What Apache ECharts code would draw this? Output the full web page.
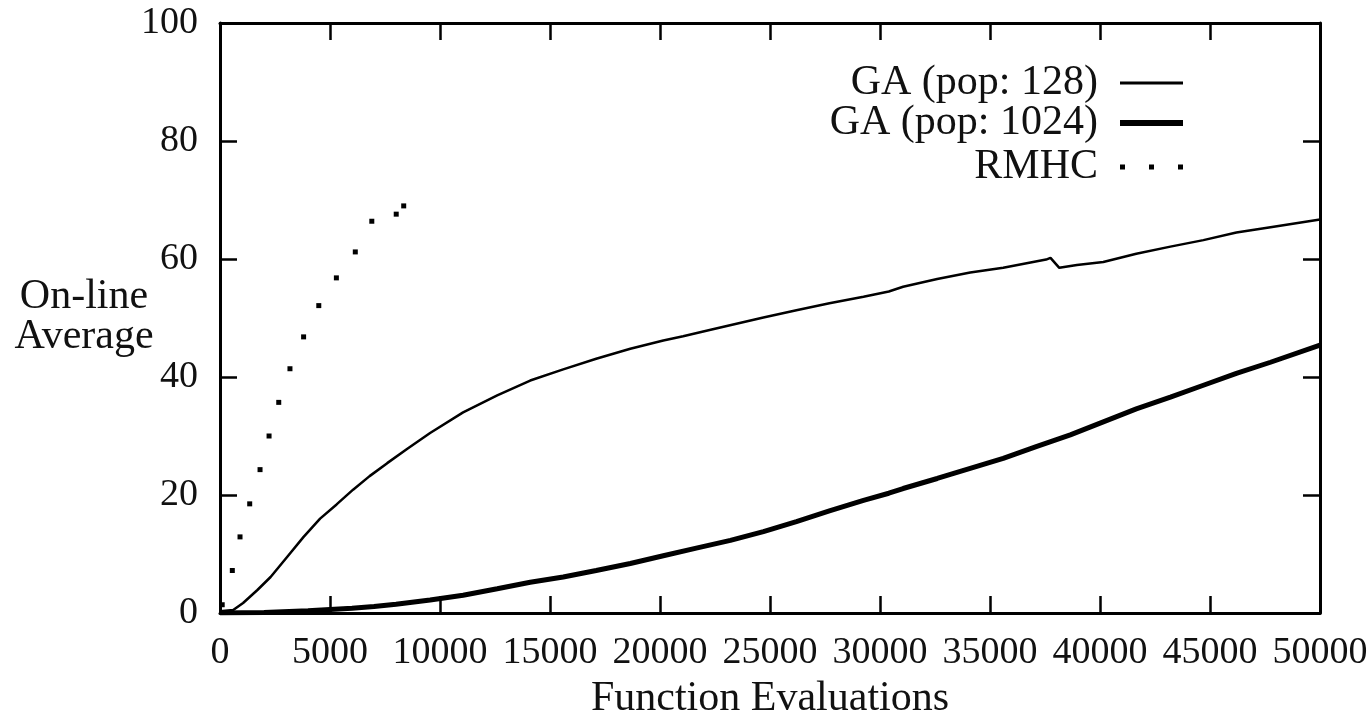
<!DOCTYPE html>
<html>
<head>
<meta charset="utf-8">
<script src="https://cdn.jsdelivr.net/npm/echarts@6/dist/echarts.min.js"></script>
<style>
  html, body { margin: 0; padding: 0; background: #fff; }
  #chart { width: 1371px; height: 717px; }
</style>
</head>
<body>
<div id="chart"></div>
<script>
// values: [function evaluations, on-line average]
var ga128 = [
  [0, 0.3], [600, 0.5], [1050, 1.7], [1700, 3.9], [2300, 6.1], [3050, 9.5],
  [3800, 12.9], [4550, 16.0], [5300, 18.4], [6050, 20.9], [6800, 23.2],
  [7600, 25.4], [8500, 27.8], [9550, 30.5], [11050, 34.0], [12600, 36.9],
  [14100, 39.4], [15600, 41.3], [17100, 43.1], [18650, 44.8], [20150, 46.2],
  [21050, 46.9], [22400, 48.1], [24700, 50.1], [26200, 51.3], [27700, 52.5],
  [29250, 53.6], [30400, 54.5], [31050, 55.3], [32600, 56.6], [34100, 57.7],
  [35600, 58.5], [37550, 59.9], [37750, 60.2], [38150, 58.5], [38950, 59.0],
  [40150, 59.5], [41650, 60.9], [43200, 62.1], [44700, 63.2], [46200, 64.5],
  [47750, 65.4], [50000, 66.7]
];
var ga1024 = [
  [0, 0], [2000, 0.1], [4000, 0.4], [5000, 0.6], [6000, 0.8], [7000, 1.1],
  [8000, 1.5], [9550, 2.2], [11050, 3.0], [12600, 4.1], [14100, 5.2],
  [15600, 6.1], [17100, 7.2], [18650, 8.4], [20150, 9.7], [21650, 11.0],
  [23200, 12.3], [24700, 13.8], [26200, 15.5], [27700, 17.3], [29250, 19.1],
  [30400, 20.3], [31050, 21.1], [32600, 22.8], [34100, 24.5], [35600, 26.2],
  [37100, 28.2], [38650, 30.2], [40150, 32.4], [41650, 34.6], [43200, 36.6],
  [44700, 38.6], [46200, 40.6], [47750, 42.5], [50000, 45.4]
];
var rmhc = [
  [100, 1.4], [560, 7.2], [910, 12.9], [1350, 18.5], [1820, 24.3],
  [2230, 30.0], [2670, 35.7], [3180, 41.4], [3800, 46.8], [4490, 52.1],
  [5290, 56.8], [6150, 61.2], [6900, 66.4], [8010, 67.6], [8350, 69.0]
];
var seriesNames = ["GA (pop: 128)", "GA (pop: 1024)", "RMHC"];
var xTicks = { min: 0, max: 50000, interval: 5000 };
var yTicks = { min: 0, max: 100, interval: 20 };

var font = "'Liberation Serif', serif";
var ink = "#000";
var textInk = "#111";

var chart = echarts.init(document.getElementById("chart"));

// gnuplot style frame: ticks point inward on all four sides
function frameAxis(extra) {
  return Object.assign({
    type: "value",
    axisLine: { show: true, onZero: false, lineStyle: { color: ink, width: 3 } },
    axisTick: { show: true, inside: true, length: 17, lineStyle: { color: ink, width: 2.5 } },
    splitLine: { show: false }
  }, extra);
}

function legendFor(name, top, icon, height) {
  return {
    data: [{ name: name, icon: icon }],
    right: 183,
    top: top,
    align: "right",
    orient: "vertical",
    itemWidth: 63,
    itemHeight: height,
    selectedMode: false,
    textStyle: {
      fontFamily: font, fontSize: 42, color: textInk,
      lineHeight: 42, padding: [0, 17, 0, 0]
    }
  };
}

var option = {
  animation: false,
  backgroundColor: "#fff",
  grid: { left: 220, right: 51, top: 23, bottom: 104, outerBoundsMode: "none", containLabel: false },
  legend: [
    legendFor(seriesNames[0], 57, "path://M0,0h63v3h-63z", 3),
    legendFor(seriesNames[1], 97, "path://M0,0h63v6h-63z", 6),
    legendFor(seriesNames[2], 141, "path://M0,0h5v5h-5zM29,0h5v5h-5zM58,0h5v5h-5z", 5)
  ],
  xAxis: [
    frameAxis({
      position: "bottom",
      min: xTicks.min, max: xTicks.max, interval: xTicks.interval,
      axisLabel: {
        fontFamily: font, fontSize: 38, color: textInk, margin: 20, lineHeight: 40,
        formatter: function (v) { return String(v); }
      },
      name: "Function Evaluations",
      nameLocation: "middle",
      nameGap: 61,
      nameTextStyle: { fontFamily: font, fontSize: 42, color: textInk, lineHeight: 42 }
    }),
    frameAxis({
      position: "top",
      min: xTicks.min, max: xTicks.max, interval: xTicks.interval,
      axisLabel: { show: false }
    })
  ],
  yAxis: [
    frameAxis({
      position: "left",
      min: yTicks.min, max: yTicks.max, interval: yTicks.interval,
      axisLabel: {
        fontFamily: font, fontSize: 38, color: textInk, margin: 22,
        formatter: function (v) { return String(v); }
      }
    }),
    frameAxis({
      position: "right",
      min: yTicks.min, max: yTicks.max, interval: yTicks.interval,
      axisLabel: { show: false }
    })
  ],
  graphic: [
    {
      type: "text",
      x: 84,
      y: 277,
      style: {
        text: "On-line\nAverage",
        font: "42px " + font,
        fill: textInk,
        align: "center",
        lineHeight: 40
      }
    }
  ],
  series: [
    {
      name: seriesNames[0],
      type: "line",
      data: ga128,
      symbol: "none",
      color: ink,
      lineStyle: { color: ink, width: 2.5 }
    },
    {
      name: seriesNames[1],
      type: "line",
      data: ga1024,
      symbol: "none",
      color: ink,
      lineStyle: { color: ink, width: 5 }
    },
    {
      name: seriesNames[2],
      type: "scatter",
      data: rmhc,
      symbol: "rect",
      symbolSize: 5,
      itemStyle: { color: ink, opacity: 1 }
    }
  ]
};

chart.setOption(option);
</script>
</body>
</html>
